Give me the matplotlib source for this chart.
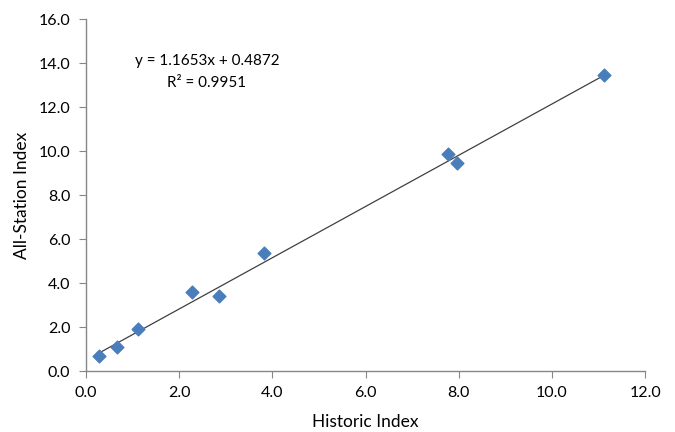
import numpy as np
import matplotlib.pyplot as plt

# Data
historic_index = [0.29, 0.67, 1.13, 2.28, 2.85, 3.82, 7.76, 7.97, 11.12]
all_station_index = [0.68, 1.08, 1.91, 3.58, 3.41, 5.35, 9.86, 9.44, 13.45]

# Trendline coefficients as shown on the chart
slope = 1.1653
intercept = 0.4872
r_squared = 0.9951

xticks = [0, 2, 4, 6, 8, 10, 12]
yticks = [0, 2, 4, 6, 8, 10, 12, 14, 16]

plt.rcParams['font.family'] = ['Lato', 'DejaVu Sans']

fig = plt.figure(figsize=(6.75, 4.32), dpi=100)
ax = fig.add_axes([0.127, 0.141, 0.829, 0.815])

x_line = np.array([min(historic_index), max(historic_index)])
ax.plot(x_line, slope * x_line + intercept, color='#404040', linewidth=0.9, zorder=2)
ax.scatter(historic_index, all_station_index, marker='D', s=42, color='#4A7EBB', zorder=3)

ax.text(2.6, 14.1, 'y = %.4fx + %.4f' % (slope, intercept), ha='center', va='center', fontsize=11)
ax.text(2.6, 13.1, 'R² = %.4f' % r_squared, ha='center', va='center', fontsize=11)

ax.set_xlim(0, 12)
ax.set_ylim(0, 16)
ax.set_xticks(xticks)
ax.set_yticks(yticks)
ax.set_xticklabels(['%.1f' % v for v in xticks])
ax.set_yticklabels(['%.1f' % v for v in yticks])

ax.set_xlabel('Historic Index', fontsize=12.5, labelpad=10)
ax.set_ylabel('All-Station Index', fontsize=12.5, labelpad=6)

for side in ['top', 'right']:
    ax.spines[side].set_visible(False)
for side in ['left', 'bottom']:
    ax.spines[side].set_color('#868686')
    ax.spines[side].set_linewidth(1.0)
ax.tick_params(direction='out', length=5, color='#868686', labelsize=11.5, pad=6)

plt.savefig('out.png', dpi=100)
